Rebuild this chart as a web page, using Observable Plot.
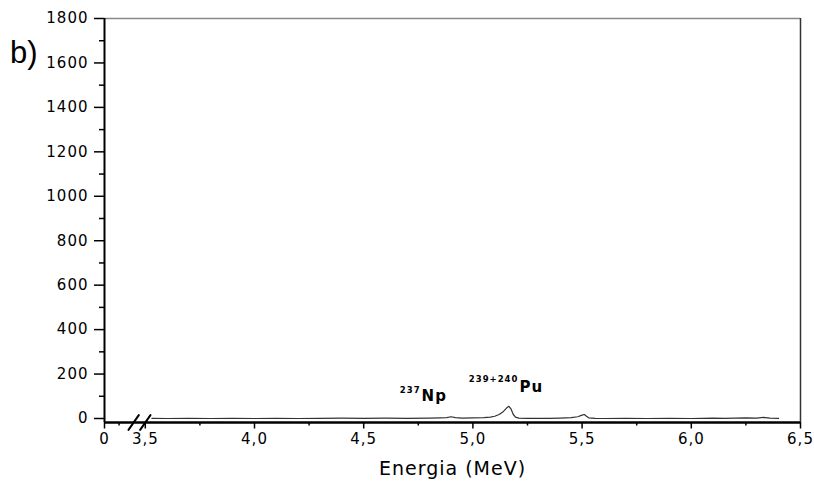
<!DOCTYPE html>
<html><head><meta charset="utf-8">
<script src="https://cdn.jsdelivr.net/npm/d3@7"></script>
<script src="https://cdn.jsdelivr.net/npm/@observablehq/plot@0.6"></script>
<style>
body{margin:0;background:#fff;}
#wrap{position:relative;width:814px;height:483px;}
#panel{position:absolute;left:10px;top:37px;font:31px "Liberation Sans",Arial,sans-serif;line-height:1;color:#000;z-index:2;}
</style></head><body>
<div id="wrap"><div id="panel">b)</div></div>
<script>
// Spectrum (energy in MeV, counts)
const energy = [3.53,3.6,3.7,3.8,3.9,4.0,4.1,4.2,4.3,4.4,4.5,4.6,4.7,4.8,4.85,4.88,4.9,4.92,4.95,5.0,5.05,5.08,5.1,5.12,5.14,5.155,5.165,5.175,5.185,5.195,5.21,5.25,5.3,5.35,5.4,5.45,5.48,5.5,5.51,5.52,5.53,5.56,5.6,5.7,5.8,5.9,6.0,6.05,6.1,6.15,6.2,6.25,6.3,6.33,6.36,6.4];
const counts = [1,0,1,0,1,0,1,0,1,2,1,2,1,2,3,4,8,4,2,3,4,6,10,18,32,48,55,42,18,6,2,1,1,1,2,4,8,15,18,10,3,1,0,1,0,1,0,1,2,1,2,3,2,5,2,1];

const xTicks = [0,3.5,4,4.5,5,5.5,6,6.5];
const xMinor = [1.25,3.75,4.25,4.75,5.25,5.75,6.25];
const yTicks = [0,200,400,600,800,1000,1200,1400,1600,1800];
const yMinor = [100,300,500,700,900,1100,1300,1500,1700];
const breaks = [2.5,3.5];

const isotopes = ["237","239+240"];
const elements = ["Np","Pu"];
const labelX = [4.765,5.213];
const labelY = [77,120];

const fmt = d => d === 0 ? "0" : d.toFixed(1).replace(".", ",");
const data = energy.map((e,i)=>({e, c: counts[i]}));
const labels = elements.map((el,i)=>({el, iso: isotopes[i], x: labelX[i], y: labelY[i]}));

const slash = {draw(context, l) { context.moveTo(0, 0); context.lineTo(0, -l); }};

const plot = Plot.plot({
  width: 814, height: 483,
  marginLeft: 104, marginRight: 14, marginTop: 18, marginBottom: 61,
  style: {fontFamily: "'DejaVu Sans', sans-serif", background: "#fff", letterSpacing: "1px", color: "#000"},
  x: {type: "linear", domain: [0,3.5,6.5], range: [104,144.8,800]},
  y: {domain: [-18,1800]},
  marks: [
    Plot.ruleY([1800], {stroke: "#888", strokeWidth: 1.5}),
    Plot.ruleX([6.5], {stroke: "#333", strokeWidth: 1.5}),
    Plot.axisY(yMinor, {tickSize: 5, tickFormat: () => "", label: null, strokeWidth: 1.5}),
    Plot.axisY(yTicks, {tickSize: 10, tickPadding: 6, tickFormat: d => String(d), fontSize: 15, label: null, strokeWidth: 1.5}),
    Plot.axisX(xMinor, {tickSize: 3.5, tickFormat: () => "", label: null, strokeWidth: 1.5}),
    Plot.axisX(xTicks, {tickSize: 6.5, tickPadding: 4, tickFormat: fmt, fontSize: 15, label: null, strokeWidth: 1.5}),
    Plot.ruleX([0], {stroke: "#000", strokeWidth: 2}),
    Plot.ruleY([-18], {stroke: "#000", strokeWidth: 2.5}),
    Plot.vector(breaks, {x: d => d, frameAnchor: "bottom", length: 18, rotate: 35, anchor: "middle", shape: slash, stroke: "#000", strokeWidth: 2}),
    Plot.line(data, {x: "e", y: "c", stroke: "#333", strokeWidth: 1.2}),
    Plot.text(labels, {x: "x", y: "y", text: "el", textAnchor: "start", lineAnchor: "bottom", fontWeight: "bold", fontSize: 15}),
    Plot.text([labels[0]], {x: "x", y: "y", text: "iso", textAnchor: "end", lineAnchor: "bottom", fontWeight: "bold", fontSize: 8.5, dx: -1, dy: -8.7}),
    Plot.text([labels[1]], {x: "x", y: "y", text: "iso", textAnchor: "end", lineAnchor: "bottom", fontWeight: "bold", fontSize: 8.5, dx: -1, dy: -10}),
    Plot.text(["Energia (MeV)"], {frameAnchor: "bottom", dy: 52, lineAnchor: "bottom", fontSize: 19, text: d => d})
  ]
});
document.getElementById("wrap").appendChild(plot);
</script>
</body></html>
